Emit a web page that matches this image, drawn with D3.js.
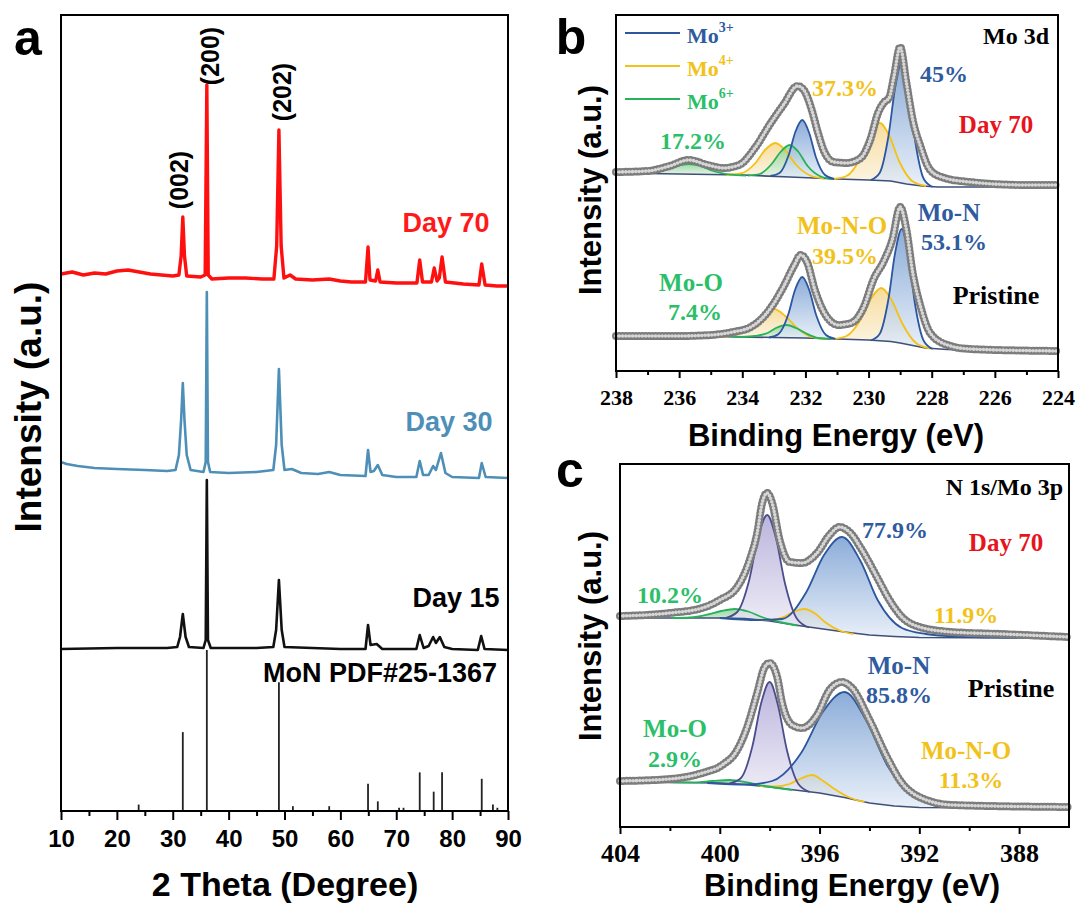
<!DOCTYPE html>
<html><head><meta charset="utf-8">
<script src="https://cdn.jsdelivr.net/npm/d3@7"></script>
<style>body{margin:0;background:#fff}svg{display:block}</style>
</head><body><svg id="fig" width="1082" height="906"></svg>
<script>
// ===================== DATA =====================
// Panel a: XRD (2theta, intensity a.u., stacked as plotted)
const xrdDay70 = [[10,53.7],[12,53.9],[14,53.6],[16,53.8],[18,53.7],[20,54.0],[22,54.1],[24,53.9],[26,53.7],[28,53.6],[30,53.5],[31.1,53.6],[31.5,55.5],[31.8,59.4],[32.1,55.5],[32.5,53.5],[35.0,53.4],[35.8,53.6],[36.1,72.6],[36.35,53.6],[37,53.2],[40,53.3],[43,53.3],[46,53.2],[48.1,53.2],[48.6,56.5],[49.0,68.1],[49.4,56.5],[49.9,53.3],[51,53.6],[52,53.2],[55,53.1],[58,53.2],[60,53.0],[62,52.9],[64.5,52.9],[64.95,56.4],[65.3,53.1],[66.3,53.0],[66.7,54.1],[67.1,52.9],[70,52.8],[73.7,52.8],[74.2,55.1],[74.7,52.9],[76.3,52.9],[76.8,54.3],[77.3,53.0],[77.7,53.3],[78.2,55.4],[78.8,52.9],[82,52.7],[84.8,52.6],[85.3,54.7],[85.9,52.6],[88,52.5],[90,52.5]];
const xrdDay30 = [[10,34.9],[11,34.7],[13,34.5],[16,34.3],[20,34.2],[25,34.1],[29,34.0],[30.5,34.1],[31.1,35.6],[31.5,39.1],[31.8,42.8],[32.1,39.1],[32.5,35.6],[33.2,34.1],[35.5,33.9],[35.9,34.9],[36.1,51.9],[36.3,34.9],[36.7,33.9],[40,33.8],[45,33.9],[48.0,34.1],[48.5,36.6],[49.0,44.2],[49.5,36.6],[50.0,34.1],[51.3,34.2],[53,33.8],[56,33.7],[58,33.9],[60,33.6],[64.5,33.5],[64.95,36.1],[65.4,33.9],[66.0,34.0],[66.7,34.6],[67.5,33.6],[70,33.4],[73.6,33.4],[74.2,35.0],[74.8,33.6],[75.8,33.6],[76.6,34.5],[77.1,34.1],[78.0,35.8],[78.8,33.8],[80,33.4],[84.8,33.3],[85.3,34.8],[86,33.4],[90,33.3]];
const xrdDay15 = [[10,16.2],[20,16.3],[29,16.3],[30.8,16.4],[31.3,17.4],[31.8,19.7],[32.3,17.4],[32.9,16.4],[35.5,16.3],[35.9,17.1],[36.1,33.1],[36.3,17.1],[36.8,16.3],[40,16.3],[45,16.3],[48.0,16.4],[48.5,18.1],[49.0,23.1],[49.5,18.1],[50.0,16.4],[55,16.3],[60,16.2],[64.5,16.2],[64.95,18.6],[65.4,16.6],[66.5,16.7],[67.5,16.2],[73.6,16.2],[74.2,17.6],[74.9,16.3],[75.8,16.5],[76.6,17.4],[77.1,16.8],[77.8,17.4],[78.6,16.4],[80,16.2],[84.6,16.1],[85.2,17.5],[85.8,16.2],[90,16.1]];
const pdfPos = [23.9,31.8,36.1,49.0,51.5,58.0,64.95,66.7,70.5,71.3,74.2,76.7,78.2,85.3,87.3,88.1];
const pdfInt = [4,49,100,80,3,3,17,6,2,2,24,12,24,20,4,2];
const pdfFullScale = 16.1;
const xTicksA = [10,20,30,40,50,60,70,80,90];
const peakLabels = ["(002)","(200)","(202)"];

// Panel b: Mo 3d XPS (binding energy, intensity a.u.)
const bDay70Data = [[238,19.9],[237,20.0],[236.3,20.5],[235.7,21.1],[235.1,20.6],[234.6,20.3],[234.1,20.6],[233.6,22.3],[233.1,24.8],[232.7,26.6],[232.25,28.5],[232.05,28.1],[231.8,26.1],[231.6,23.8],[231.4,21.9],[231.1,20.9],[230.7,20.8],[230.25,21.3],[229.95,23.1],[229.7,25.8],[229.5,26.9],[229.35,27.3],[229.2,29.4],[229.0,32.4],[228.8,28.8],[228.6,25.1],[228.35,22.4],[228.05,20.1],[227.6,19.3],[226.8,18.9],[225,18.6],[224,18.6]];
const bDay70Bg = [[238,19.8],[236,19.7],[234,19.6],[232.5,19.4],[231,19.2],[230,19.1],[229.3,19.0],[228.8,18.7],[228.3,18.5],[227.8,18.4],[226,18.4],[224,18.4]];
const bDay70Mo3a = [[227.97,18.4],[228.25,19.2],[228.53,23.1],[228.74,28.1],[228.95,30.9],[229.16,28.3],[229.37,23.5],[229.65,19.8],[229.93,19.1]];
const bDay70Mo3b = [[231.09,19.2],[231.38,19.6],[231.67,21.4],[231.88,23.8],[232.1,25.1],[232.32,23.9],[232.53,21.6],[232.82,19.8],[233.11,19.5]];
const bDay70Mo4a = [[228.18,18.5],[228.6,18.95],[229.02,20.9],[229.34,23.5],[229.65,24.8],[229.97,23.6],[230.28,21.2],[230.7,19.5],[231.12,19.2]];
const bDay70Mo4b = [[231.41,19.25],[231.85,19.55],[232.29,20.6],[232.62,22.0],[232.95,22.8],[233.28,22.1],[233.61,20.7],[234.05,19.75],[234.49,19.6]];
const bDay70Mo6a = [[231.17,19.2],[231.55,19.5],[231.93,20.5],[232.22,21.9],[232.5,22.6],[232.79,21.9],[233.07,20.7],[233.45,19.7],[233.83,19.55]];
const bDay70Mo6b = [[233.88,19.55],[234.4,19.66],[234.92,20.0],[235.31,20.5],[235.7,20.7],[236.09,20.5],[236.48,20.1],[237.0,19.8],[237.52,19.75]];

const bPrisData = [[238,3.5],[236,3.5],[235,3.6],[234.3,3.9],[233.73,4.4],[233.1,6.3],[232.7,8.4],[232.35,10.6],[232.15,11.6],[231.95,10.9],[231.7,8.1],[231.4,5.8],[230.95,4.6],[230.55,4.8],[230.15,6.4],[229.85,9.1],[229.5,11.1],[229.25,13.1],[229.0,16.4],[228.8,14.1],[228.6,9.8],[228.35,6.4],[228.05,3.8],[227.5,2.6],[226.8,2.2],[224,2.0]];
const bPrisBg = [[238,3.5],[235,3.45],[233,3.35],[232,3.3],[231,3.2],[230,3.1],[229.3,2.95],[229,2.8],[228.6,2.55],[228.2,2.3],[227.5,2.15],[227,2.1],[224,2.0]];
const bPrisMo3a = [[227.97,2.2],[228.25,3.0],[228.53,6.7],[228.74,11.6],[228.95,14.2],[229.16,11.8],[229.37,7.2],[229.65,3.7],[229.93,3.05]];
const bPrisMo3b = [[231.05,3.2],[231.35,3.6],[231.65,5.5],[231.88,8.1],[232.1,9.4],[232.33,8.1],[232.55,5.6],[232.85,3.7],[233.15,3.35]];
const bPrisMo4a = [[228.06,2.25],[228.5,2.8],[228.94,4.8],[229.27,7.1],[229.6,8.3],[229.93,7.2],[230.26,5.1],[230.7,3.5],[231.14,3.2]];
const bPrisMo4b = [[231.32,3.2],[231.8,3.4],[232.28,4.35],[232.64,5.5],[233.0,6.2],[233.36,5.6],[233.72,4.45],[234.2,3.6],[234.68,3.4]];
const bPrisMo6a = [[231.2,3.2],[231.6,3.3],[232.0,3.8],[232.3,4.3],[232.6,4.6],[232.9,4.35],[233.2,3.8],[233.6,3.5],[234.0,3.4]];
const bPrisMo6b = [[234.0,3.4],[235.0,3.6],[235.8,3.75],[236.6,3.6],[237.6,3.5]];
const xTicksB = [238,236,234,232,230,228,226,224];
const legendB = ["3+","4+","6+"];

// Panel c: N 1s / Mo 3p XPS
const cDay70Data = [[404,21.1],[402,21.4],[400.7,21.9],[400,22.7],[399.3,24.0],[398.8,26.7],[398.5,29.4],[398.3,32.4],[398.1,33.4],[397.9,32.4],[397.6,28.7],[397.2,26.5],[396.7,26.4],[396.1,27.4],[395.6,29.2],[395.2,30.0],[394.8,29.5],[394.3,27.7],[393.7,25.0],[393.2,22.7],[392.7,21.0],[392.0,20.0],[390.7,19.5],[388.7,19.3],[386,19.0]];
const cDay70Bg = [[404,20.9],[400,20.9],[399,20.85],[398,20.6],[397,20.2],[396,19.85],[395,19.5],[394,19.2],[393,19.05],[392,18.95],[386,18.9]];
const cDay70Mo3p = [[396.42,19.95],[396.9,20.8],[397.38,24.3],[397.74,28.8],[398.1,31.2],[398.46,29.0],[398.82,24.7],[399.3,21.5],[399.78,20.9]];
const cDay70MoN = [[386,18.9],[388.5,18.95],[390.5,19.05],[391.74,19.3],[392.7,19.9],[393.66,22.65],[394.38,26.7],[395.1,29.0],[395.82,27.2],[396.54,23.45],[397.5,20.8],[398.46,20.7],[400,20.9]];
const cDay70MoNO = [[394.64,19.3],[395.2,19.65],[395.76,20.45],[396.18,21.35],[396.6,21.8],[397.02,21.55],[397.44,21.0],[398.0,20.7],[398.56,20.75]];
const cDay70MoO = [[396.88,20.15],[397.6,20.5],[398.32,21.0],[398.86,21.55],[399.4,21.8],[399.94,21.6],[400.48,21.25],[401.2,20.95],[401.92,20.9]];

const cPrisData = [[404,4.6],[402,4.8],[400.7,5.4],[399.9,6.2],[399.3,7.7],[398.9,10.0],[398.5,13.4],[398.2,16.0],[398.0,16.4],[397.7,15.0],[397.5,12.4],[397.1,10.2],[396.7,9.9],[396.1,11.2],[395.6,13.7],[395.1,14.5],[394.7,13.9],[394.0,10.7],[393.3,7.0],[392.7,4.4],[392.0,3.0],[390.7,2.2],[386,2.0]];
const cPrisBg = [[404,4.5],[400,4.4],[399,4.25],[398,4.0],[397,3.7],[396,3.4],[395,2.95],[394,2.4],[393,2.1],[392,1.95],[386,1.9]];
const cPrisMo3p = [[396.39,3.5],[396.85,4.3],[397.31,7.7],[397.66,12.1],[398.0,14.5],[398.35,12.3],[398.69,8.1],[399.15,4.9],[399.61,4.35]];
const cPrisMoN = [[386,1.9],[388.5,1.95],[390,2.05],[391.2,2.3],[392.1,2.95],[393.26,6.05],[394.13,10.65],[395.0,13.5],[395.87,11.5],[396.74,7.4],[397.9,4.6],[398.9,4.25],[400.5,4.4]];
const cPrisMoNO = [[394.2,2.5],[394.8,2.95],[395.4,3.8],[395.85,4.6],[396.3,5.2],[396.75,4.85],[397.2,4.3],[397.8,4.05],[398.4,4.1]];
const cPrisMoO = [[397.1,3.7],[398.2,4.1],[398.9,4.45],[399.6,4.7],[400.3,4.6],[401.0,4.47],[402.1,4.5]];
const xTicksC = [404,400,396,392,388];

// ===================== DRAWING =====================
const svg = d3.select('#fig');
const SANS = "Liberation Sans, Arial, sans-serif";
const SERIF = "Liberation Serif, 'Times New Roman', serif";
const COL = {
  blue:{line:'#2b56a0', top:'#6f98cf', bot:'#e3ecf7', text:'#2f5b9f'},
  yellow:{line:'#f4c114', top:'#f5d489', bot:'#fcf4df', text:'#f2c21a'},
  green:{line:'#27b25a', top:'#86cf91', bot:'#e6f5e8', text:'#2cbf6a'},
  purple:{line:'#4b4c8c', top:'#aaa3d4', bot:'#ebe8f5', text:'#4b4c8c'}
};
const defs = svg.append('defs');
Object.entries(COL).forEach(([k,c])=>{
  const g = defs.append('linearGradient').attr('id','grad-'+k).attr('x1',0).attr('y1',0).attr('x2',0).attr('y2',1);
  g.append('stop').attr('offset','0%').attr('stop-color',c.top);
  g.append('stop').attr('offset','100%').attr('stop-color',c.bot);
});

function frame(x0,y0,x1,y1){
  svg.append('rect').attr('x',x0).attr('y',y0).attr('width',x1-x0).attr('height',y1-y0)
    .attr('fill','none').attr('stroke','#000').attr('stroke-width',2);
}
function bottomAxis(scale, yPos, majors, minors, font, size, labOff, majLen, minLen){
  const gMin = svg.append('g').attr('transform',`translate(0,${yPos})`)
    .call(d3.axisBottom(scale).tickValues(minors).tickSize(minLen).tickFormat(''));
  gMin.select('.domain').remove();
  gMin.selectAll('line').attr('stroke','#000').attr('stroke-width',2);
  const g = svg.append('g').attr('transform',`translate(0,${yPos})`)
    .call(d3.axisBottom(scale).tickValues(majors).tickSize(majLen).tickFormat(d3.format('d')));
  g.select('.domain').remove();
  g.selectAll('line').attr('stroke','#000').attr('stroke-width',2);
  g.selectAll('text').attr('y',labOff).attr('dy','0.35em')
    .attr('font-family',font).attr('font-size',size).attr('font-weight','bold').attr('fill','#000');
}
function txt(t,x,y,opt={}){
  const e = svg.append('text').attr('x',x).attr('y',y).text(t)
    .attr('font-family',opt.font||SANS).attr('font-size',opt.size||24)
    .attr('font-weight',opt.weight||'bold').attr('fill',opt.fill||'#000')
    .attr('text-anchor',opt.anchor||'middle').attr('dominant-baseline',opt.base||'central');
  if(opt.rot) e.attr('transform',`rotate(${opt.rot},${x},${y})`);
  return e;
}

// ---------- Panel a ----------
const xa = d3.scaleLinear([10,90],[61,508]);
const ya = d3.scaleLinear([0,79.6],[811,15]);
const lineA = d3.line().x(d=>xa(d[0])).y(d=>ya(d[1]));
svg.append('g').selectAll('line').data(pdfPos.map((p,i)=>[p,pdfInt[i]])).join('line')
  .attr('x1',d=>xa(d[0])).attr('x2',d=>xa(d[0])).attr('y1',ya(0))
  .attr('y2',d=>ya(d[1]/100*pdfFullScale)).attr('stroke','#222').attr('stroke-width',1.8);
svg.append('path').attr('d',lineA(xrdDay15)).attr('fill','none').attr('stroke','#111').attr('stroke-width',2.6).attr('stroke-linejoin','round');
svg.append('path').attr('d',lineA(xrdDay30)).attr('fill','none').attr('stroke','#4d8fb7').attr('stroke-width',2.6).attr('stroke-linejoin','round');
svg.append('path').attr('d',lineA(xrdDay70)).attr('fill','none').attr('stroke','#ff1010').attr('stroke-width',3.4).attr('stroke-linejoin','round');
frame(61,15,508,811);
bottomAxis(xa, 811, xTicksA, [15,25,35,45,55,65,75,85], SANS, 24, 28, 9, 5);
txt('2 Theta (Degree)', 285, 884, {size:34});
txt('Intensity (a.u.)', 28, 407, {size:37, rot:-90});
txt('a', 28, 38, {size:50});
txt(peakLabels[0], xa(31.8)-4, 180, {size:25, rot:-90});
txt(peakLabels[1], xa(36.1)+3, 56, {size:25, rot:-90});
txt(peakLabels[2], xa(49.0)+3, 92, {size:25, rot:-90});
txt('Day 70', 446, 223, {size:27, fill:'#ff1a1a'});
txt('Day 30', 449, 422, {size:27, fill:'#4d8fb7'});
txt('Day 15', 456, 598, {size:27});
txt('MoN PDF#25-1367', 380, 673, {size:27});

// ---------- XPS helpers ----------
function xpsPanel(x, y, spectra){
  const sortPx = arr => arr.slice().sort((a,b)=>x(a[0])-x(b[0]));
  const line = d3.line().x(d=>x(d[0])).y(d=>y(d[1])).curve(d3.curveMonotoneX);
  const lin = d3.line().x(d=>x(d[0])).y(d=>y(d[1]));
  spectra.forEach(sp=>{
    const g = svg.append('g');
    sp.comps.forEach(c=>{
      const p = sortPx(c.pts);
      const x0 = x(p[0][0]), x1 = x(p[p.length-1][0]);
      const seg = sortPx(sp.bg).filter(d=>x(d[0])>x0 && x(d[0])<x1).reverse();
      const d = line(p) + seg.map(q=>`L${x(q[0])},${y(q[1])}`).join('') + 'Z';
      g.append('path').attr('d',d).attr('fill',`url(#grad-${c.col})`).attr('fill-opacity',0.8);
    });
    g.append('path').attr('d',line(sortPx(sp.data))).attr('fill','none').attr('stroke','#111').attr('stroke-width',1.4);
    g.append('path').attr('d',lin(sortPx(sp.bg))).attr('fill','none').attr('stroke','#3f4f78').attr('stroke-width',1.6);
    sp.comps.forEach(c=>{
      g.append('path').attr('d',line(sortPx(c.pts))).attr('fill','none')
        .attr('stroke',COL[c.col].line).attr('stroke-width',1.8);
    });
    const dp = line(sortPx(sp.data));
    g.append('path').attr('d',dp).attr('fill','none').attr('stroke','#7c7c7c')
      .attr('stroke-width',8).attr('stroke-linecap','round').attr('stroke-dasharray','0 3.3');
    g.append('path').attr('d',dp).attr('fill','none').attr('stroke','#d6d6d6')
      .attr('stroke-width',3.6).attr('stroke-linecap','round').attr('stroke-dasharray','0 3.3');
  });
}

// ---------- Panel b ----------
const xb = d3.scaleLinear([238,224],[616,1058]);
const yb = d3.scaleLinear([0,35.6],[371,15]);
xpsPanel(xb, yb, [
  {data:bDay70Data, bg:bDay70Bg, comps:[
    {pts:bDay70Mo4b,col:'yellow'},{pts:bDay70Mo4a,col:'yellow'},
    {pts:bDay70Mo6b,col:'green'},{pts:bDay70Mo6a,col:'green'},
    {pts:bDay70Mo3b,col:'blue'},{pts:bDay70Mo3a,col:'blue'}]},
  {data:bPrisData, bg:bPrisBg, comps:[
    {pts:bPrisMo4b,col:'yellow'},{pts:bPrisMo4a,col:'yellow'},
    {pts:bPrisMo6b,col:'green'},{pts:bPrisMo6a,col:'green'},
    {pts:bPrisMo3b,col:'blue'},{pts:bPrisMo3a,col:'blue'}]}
]);
frame(616,15,1058,371);
bottomAxis(xb, 371, xTicksB, [237,235,233,231,229,227,225], SERIF, 22, 26, 7, 4);
txt('Binding Energy (eV)', 836, 435, {size:31});
txt('Intensity (a.u.)', 590, 190, {size:31, rot:-90});
txt('b', 571, 37, {size:50});
['blue','yellow','green'].forEach((k,i)=>{
  const yy = 33 + i*33;
  svg.append('line').attr('x1',625).attr('x2',680).attr('y1',yy).attr('y2',yy)
    .attr('stroke',COL[k].line).attr('stroke-width',2.2);
  const t = txt('Mo', 687, yy+2, {font:SERIF, size:22, fill:COL[k].text, anchor:'start'});
  t.append('tspan').attr('dy',-8).attr('font-size',14).text(legendB[i]);
});
txt('Mo 3d', 1049, 36, {font:SERIF, size:24, anchor:'end'});
txt('45%', 944, 74, {font:SERIF, size:24, fill:COL.blue.text});
txt('37.3%', 845, 88, {font:SERIF, size:24, fill:COL.yellow.text});
txt('17.2%', 693, 141, {font:SERIF, size:24, fill:COL.green.text});
txt('Day 70', 996, 124, {font:SERIF, size:25, fill:'#e8141c'});
txt('Mo-N', 949, 212, {font:SERIF, size:25, fill:COL.blue.text});
txt('53.1%', 954, 242, {font:SERIF, size:24, fill:COL.blue.text});
txt('Mo-N-O', 842, 225, {font:SERIF, size:25, fill:COL.yellow.text});
txt('39.5%', 845, 256, {font:SERIF, size:24, fill:COL.yellow.text});
txt('Mo-O', 691, 282, {font:SERIF, size:25, fill:COL.green.text});
txt('7.4%', 695, 312, {font:SERIF, size:24, fill:COL.green.text});
txt('Pristine', 996, 295, {font:SERIF, size:26});

// ---------- Panel c ----------
const xc = d3.scaleLinear([404,386],[620,1069]);
const yc = d3.scaleLinear([0,36.3],[827,464]);
xpsPanel(xc, yc, [
  {data:cDay70Data, bg:cDay70Bg, comps:[
    {pts:cDay70MoNO,col:'yellow'},{pts:cDay70MoO,col:'green'},
    {pts:cDay70MoN,col:'blue'},{pts:cDay70Mo3p,col:'purple'}]},
  {data:cPrisData, bg:cPrisBg, comps:[
    {pts:cPrisMoNO,col:'yellow'},{pts:cPrisMoO,col:'green'},
    {pts:cPrisMoN,col:'blue'},{pts:cPrisMo3p,col:'purple'}]}
]);
frame(620,464,1069,827);
bottomAxis(xc, 827, xTicksC, [402,398,394,390], SERIF, 26, 26, 7, 4);
txt('Binding Energy (eV)', 852, 885, {size:31});
txt('Intensity (a.u.)', 590, 636, {size:31, rot:-90});
txt('c', 570, 470, {size:50});
txt('N 1s/Mo 3p', 1063, 487, {font:SERIF, size:24, anchor:'end'});
txt('Day 70', 1006, 542, {font:SERIF, size:25, fill:'#e8141c'});
txt('77.9%', 895, 530, {font:SERIF, size:24, fill:COL.blue.text});
txt('10.2%', 670, 595, {font:SERIF, size:24, fill:COL.green.text});
txt('11.9%', 966, 615, {font:SERIF, size:24, fill:COL.yellow.text});
txt('Mo-N', 899, 665, {font:SERIF, size:25, fill:COL.blue.text});
txt('85.8%', 899, 695, {font:SERIF, size:24, fill:COL.blue.text});
txt('Pristine', 1011, 688, {font:SERIF, size:26});
txt('Mo-O', 675, 728, {font:SERIF, size:25, fill:COL.green.text});
txt('2.9%', 675, 759, {font:SERIF, size:24, fill:COL.green.text});
txt('Mo-N-O', 966, 750, {font:SERIF, size:25, fill:COL.yellow.text});
txt('11.3%', 971, 780, {font:SERIF, size:24, fill:COL.yellow.text});
</script></body></html>
